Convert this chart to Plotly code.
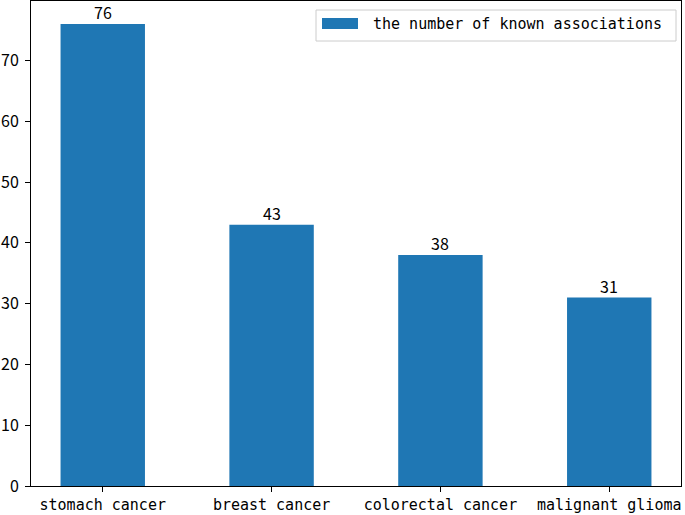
import plotly.graph_objects as go

categories = ['stomach cancer', 'breast cancer', 'colorectal cancer', 'malignant glioma']
counts = [76, 43, 38, 31]
legend_label = 'the number of known associations'
y_ticks = [0, 10, 20, 30, 40, 50, 60, 70]

W, H = 685, 515
L, R, T, B = 31, 4, 1, 29
pw, ph = W - L - R, H - T - B

def px_x(p):
    return (p - L) / pw

def px_y(p):
    return (H - B - p) / ph

blue = '#1f77b4'
mono = 'DejaVu Sans Mono'
digits = 'Noto Sans CJK SC'

xs = list(range(len(categories)))

fig = go.Figure()
fig.add_trace(go.Bar(
    x=xs, y=counts, width=0.5,
    marker=dict(color=blue, line=dict(width=0)),
    showlegend=False,
))

# value labels sitting right on top of each bar
for xi, c in zip(xs, counts):
    fig.add_annotation(x=xi, y=c, text=str(c), showarrow=False,
                       yanchor='bottom', yshift=-1, borderpad=0,
                       font=dict(family=digits, size=16, color='black'))

# legend drawn by hand to match matplotlib's look
fig.add_shape(type='rect', xref='paper', yref='paper',
              x0=px_x(316), x1=px_x(676), y0=px_y(41), y1=px_y(10),
              line=dict(color='#cccccc', width=1), fillcolor='white')
fig.add_shape(type='rect', xref='paper', yref='paper',
              x0=px_x(322), x1=px_x(358), y0=px_y(29), y1=px_y(18),
              line=dict(width=0), fillcolor=blue)
fig.add_annotation(xref='paper', yref='paper', x=px_x(371), y=px_y(24),
                   text=legend_label, showarrow=False, xanchor='left', yanchor='middle',
                   font=dict(family=mono, size=15, color='black'))

fig.update_layout(
    width=W, height=H,
    margin=dict(l=L, r=R, t=T, b=B, autoexpand=False),
    plot_bgcolor='white', paper_bgcolor='white',
    xaxis=dict(range=[-0.425, 3.425], tickvals=xs,
               ticktext=categories, showgrid=False, zeroline=False, automargin=False,
               showline=True, linecolor='black', linewidth=1, mirror=True,
               ticks='outside', ticklen=5, tickcolor='black',
               tickfont=dict(family=mono, size=15, color='black')),
    yaxis=dict(range=[0, 79.8], tickvals=y_ticks, showgrid=False, zeroline=False, automargin=False,
               showline=True, linecolor='black', linewidth=1, mirror=True,
               ticks='outside', ticklen=5, tickcolor='black', ticklabelstandoff=3,
               tickfont=dict(family=digits, size=16, color='black')),
)

# drop the page's default body margin so the figure sits at the window corner
fig.write_html('out.html', config={'displayModeBar': False},
               post_script="document.body.style.margin='0';")
